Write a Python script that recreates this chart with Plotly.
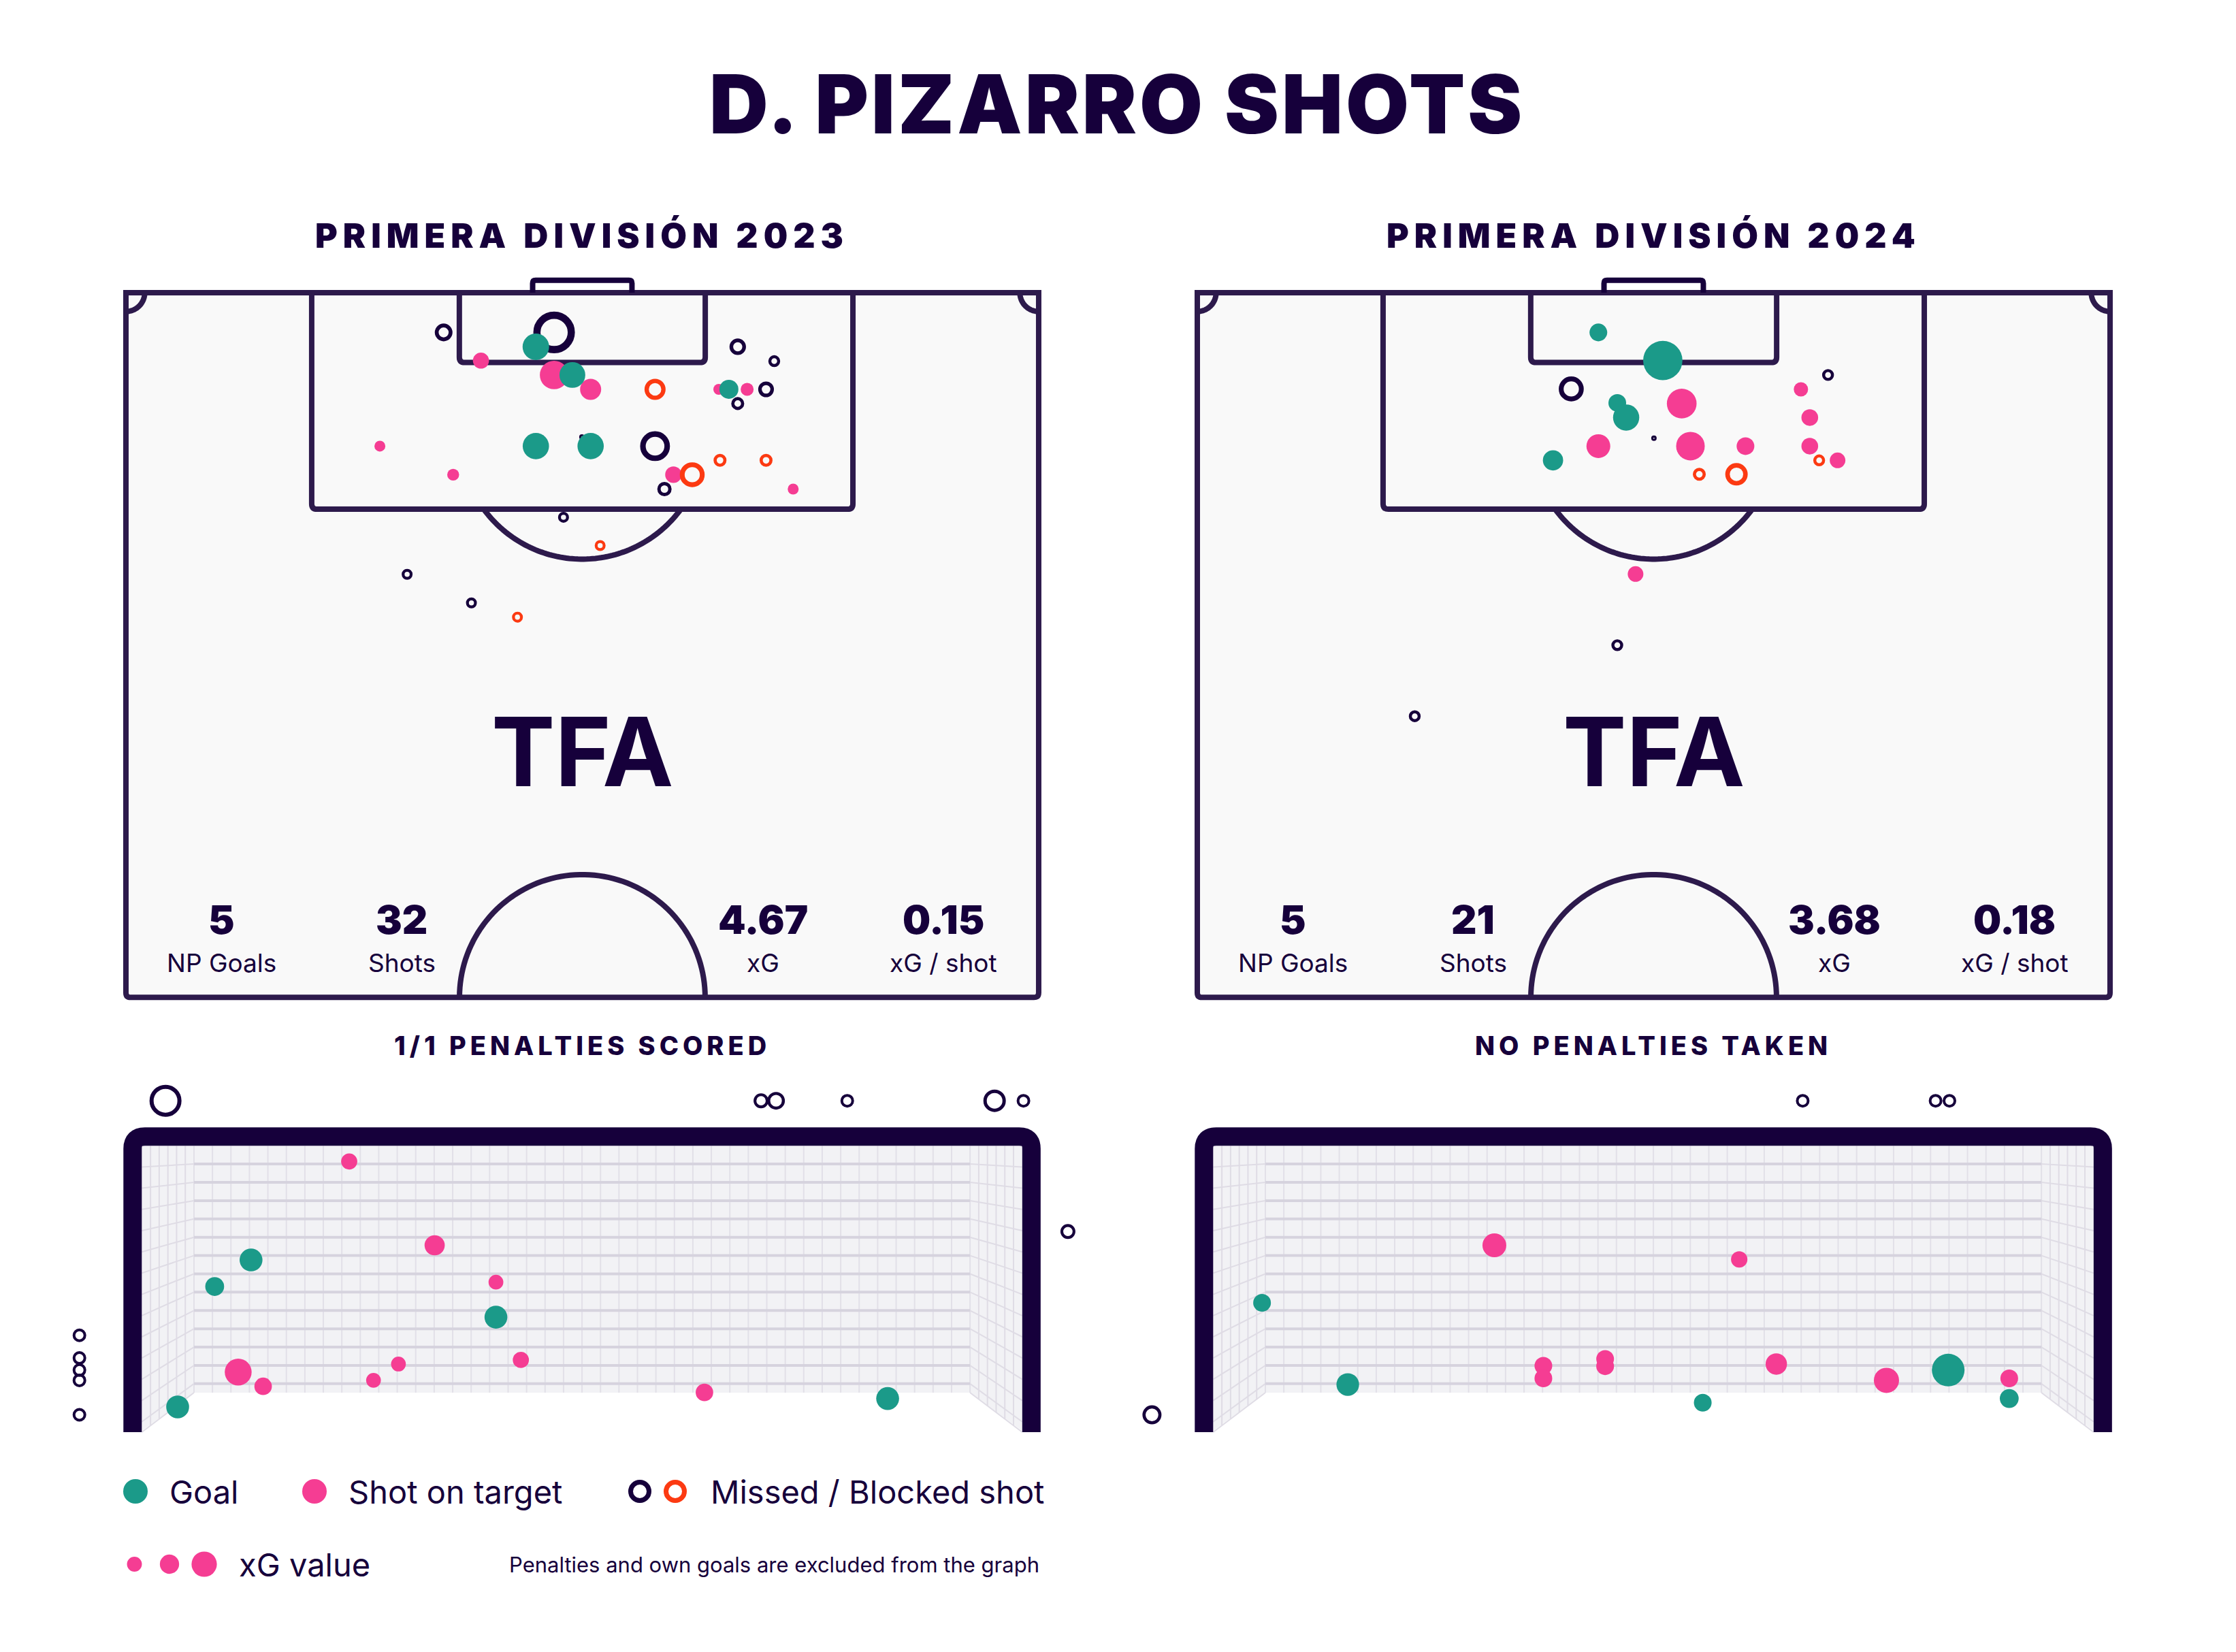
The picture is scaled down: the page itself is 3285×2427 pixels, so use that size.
import numpy as np
import plotly.graph_objects as go

W, H = 3285, 2427
OFF = 8                         # page margin around the figure
FW, FH = W - 2 * OFF, H - 2 * OFF

DARK = "#16003b"
LINE = "#2d1a4c"
TEAL = "#1b9a89"
PINK = "#f53d93"
RED = "#fc3a12"
PITCH_BG = "#f9f9f9"
NET_BG = "#f2f2f5"
FONT = "Inter, Roboto, 'Noto Sans', sans-serif"

# ---------------- data ----------------
main_title = "D. PIZARRO SHOTS"
season_titles = ["PRIMERA DIVISIÓN 2023", "PRIMERA DIVISIÓN 2024"]
penalty_titles = ["1/1 PENALTIES SCORED", "NO PENALTIES TAKEN"]
stat_labels = ["NP Goals", "Shots", "xG", "xG / shot"]
stats_2023 = ["5", "32", "4.67", "0.15"]
stats_2024 = ["5", "21", "3.68", "0.18"]

# shot maps: x = metres across pitch (0-68), y = metres from goal line
shots23_x = [31.9, 23.67, 30.54, 26.45, 31.9, 33.26, 34.62, 39.42, 45.58, 48.3,
             44.17, 44.92, 46.28, 47.69, 45.58, 18.92, 30.54, 34.62, 39.42, 24.38,
             40.79, 42.19, 44.26, 47.69, 40.12, 49.71, 32.6, 35.33, 20.95, 25.74,
             29.17, 33.97]
shots23_y = [2.96, 2.96, 4.03, 5.06, 6.13, 6.13, 7.2, 7.2, 4.03, 5.1,
             7.2, 7.2, 7.2, 7.2, 8.26, 11.43, 11.43, 11.43, 11.43, 13.56,
             13.56, 13.56, 12.49, 12.49, 14.63, 14.63, 16.73, 18.84, 20.98, 23.11,
             24.17, 10.75]
shots23_xg = [0.70, 0.127, 0.285, 0.105, 0.33, 0.27, 0.18, 0.18, 0.11, 0.057,
              0.048, 0.147, 0.068, 0.10, 0.068, 0.048, 0.28, 0.28, 0.36, 0.057,
              0.11, 0.25, 0.068, 0.068, 0.083, 0.048, 0.048, 0.048, 0.048, 0.048,
              0.048, 0.012]
shots23_result = ["missed", "missed", "goal", "on_target", "on_target", "goal", "on_target", "blocked", "missed", "missed",
                  "on_target", "goal", "on_target", "missed", "missed", "on_target", "goal", "goal", "missed", "on_target",
                  "on_target", "blocked", "blocked", "blocked", "missed", "on_target", "missed", "blocked", "missed", "missed",
                  "blocked", "missed"]

shots24_x = [29.88, 34.68, 27.86, 31.29, 31.95, 36.09, 34.02, 29.88, 26.5, 36.74,
             40.84, 37.4, 40.17, 46.99, 44.97, 45.63, 45.63, 46.33, 47.7, 32.65,
             31.29, 16.2]
shots24_y = [2.96, 5.05, 7.17, 8.21, 9.3, 8.26, 10.84, 11.43, 12.49, 11.43,
             11.43, 13.53, 13.53, 6.13, 7.2, 9.3, 11.43, 12.49, 12.49, 20.96,
             26.26, 31.55]
shots24_xg = [0.127, 0.625, 0.253, 0.127, 0.278, 0.358, 0.012, 0.23, 0.166, 0.331,
              0.127, 0.068, 0.204, 0.057, 0.083, 0.113, 0.113, 0.057, 0.099, 0.099,
              0.057, 0.057]
shots24_result = ["goal", "goal", "missed", "goal", "goal", "on_target", "missed", "on_target", "goal", "on_target",
                  "on_target", "blocked", "blocked", "missed", "on_target", "on_target", "on_target", "blocked", "on_target", "on_target",
                  "missed", "missed"]

# goal mouth views: x = metres from left post (0-7.32), z = height (m)
goal23_x = [0.268, 5.118, 5.24, 5.82, 7.02, 7.255, 7.617, -0.433, -0.433, -0.433,
            -0.433, -0.433, 1.764, 2.46, 2.959, 0.86, 1.063, 2.165, 1.962, 3.162,
            4.657, 0.9645, 0.6685, 2.959, 0.367, 6.149]
goal23_z = [2.735, 2.735, 2.735, 2.735, 2.735, 2.735, 1.656, 0.799, 0.612, 0.512,
            0.4275, 0.143, 2.234, 1.542, 1.238, 0.496, 0.378, 0.562, 0.4275, 0.596,
            0.3275, 1.421, 1.202, 0.949, 0.208, 0.2775]
goal23_xg = [0.575, 0.126, 0.176, 0.104, 0.283, 0.104, 0.126, 0.104, 0.104, 0.104,
             0.104, 0.104, 0.146, 0.229, 0.1225, 0.406, 0.172, 0.1225, 0.1225, 0.146,
             0.172, 0.294, 0.2, 0.294, 0.294, 0.294]
goal23_result = ["missed"] * 12 + ["on_target"] * 9 + ["goal"] * 5

goal24_x = [4.876, 5.958, 6.071, -0.4235, 2.365, 4.359, 2.764, 2.764, 3.267, 3.267,
            4.661, 5.558, 6.558, 0.473, 1.171, 4.062, 6.061, 6.558]
goal24_z = [2.735, 2.735, 2.735, 0.143, 1.542, 1.425, 0.548, 0.444, 0.604, 0.544,
            0.562, 0.4275, 0.444, 1.067, 0.393, 0.243, 0.512, 0.2775]
goal24_xg = [0.104, 0.104, 0.104, 0.204, 0.319, 0.15, 0.176, 0.176, 0.176, 0.176,
             0.256, 0.356, 0.176, 0.176, 0.288, 0.176, 0.6, 0.2]
goal24_result = ["missed"] * 4 + ["on_target"] * 9 + ["goal"] * 5

legend_labels = ["Goal", "Shot on target", "Missed / Blocked shot", "xG value"]
legend_xg_examples = [0.09, 0.15, 0.26]
footnote = "Penalties and own goals are excluded from the graph"

# ---------------- geometry ----------------
S = 19.72                      # px per metre on the pitch
PITCH_X0 = [185, 1759]         # page px of touchline x = 0
PITCH_Y0 = 430                 # page px of goal line
GSX, GSY = 180.4, 178.0        # px per metre in goal views
GOAL_X0 = [194.8, 1768.8]
GOAL_Y0 = 2104


def paper_x(p):
    return (p - OFF) / FW


def paper_y(p):
    return 1 - (p - OFF) / FH


def dom_x(p0, p1):
    return [paper_x(p0), paper_x(p1)]


def dom_y(top, bottom):
    return [paper_y(bottom), paper_y(top)]


def spaced(text, px):
    return f'<span style="letter-spacing:{px}px">{text}</span>'


fig = go.Figure()

PX_RANGE = [-2, 70]
PY_RANGE = [54, -2.5]
GX_RANGE = [-0.65, 7.95]
GY_RANGE = [-0.1, 3.0]

axes = {}
for i in range(2):
    n = "" if i == 0 else "2"
    axes[f"xaxis{n}"] = dict(domain=dom_x(PITCH_X0[i] + PX_RANGE[0] * S, PITCH_X0[i] + PX_RANGE[1] * S),
                             range=PX_RANGE, visible=False, fixedrange=True, anchor=f"y{n}")
    axes[f"yaxis{n}"] = dict(domain=dom_y(PITCH_Y0 + PY_RANGE[1] * S, PITCH_Y0 + PY_RANGE[0] * S),
                             range=PY_RANGE, visible=False, fixedrange=True, anchor=f"x{n}")
    g = i + 3
    axes[f"xaxis{g}"] = dict(domain=dom_x(GOAL_X0[i] + GX_RANGE[0] * GSX, GOAL_X0[i] + GX_RANGE[1] * GSX),
                             range=GX_RANGE, visible=False, fixedrange=True, anchor=f"y{g}")
    axes[f"yaxis{g}"] = dict(domain=dom_y(GOAL_Y0 - GY_RANGE[1] * GSY, GOAL_Y0 - GY_RANGE[0] * GSY),
                             range=GY_RANGE, visible=False, fixedrange=True, anchor=f"x{g}")

# legend axis in page pixel units
LEG_L, LEG_R, LEG_TOP, LEG_BOT = 8, 1700, 2140, 2350
axes["xaxis5"] = dict(domain=dom_x(LEG_L, LEG_R), range=[LEG_L, LEG_R], visible=False, fixedrange=True, anchor="y5")
axes["yaxis5"] = dict(domain=dom_y(LEG_TOP, LEG_BOT), range=[LEG_BOT, LEG_TOP], visible=False,
                      fixedrange=True, anchor="x5")

shapes = []
annotations = []


def text_at(x, y, text, size, weight=400, xanchor="center", xref="paper", yref="paper"):
    if xref == "paper":
        x, y = paper_x(x), paper_y(y)
    annotations.append(dict(xref=xref, yref=yref, x=x, y=y, text=text, showarrow=False,
                            xanchor=xanchor, yanchor="middle",
                            font=dict(family=FONT, size=size, color=DARK, weight=weight)))


def pts_path(xs, ys, close=False):
    s = "M " + " L ".join(f"{x:.4f},{y:.4f}" for x, y in zip(xs, ys))
    return s + (" Z" if close else "")


def arc(cx, cy, r, a0, a1, n=80):
    t = np.linspace(a0, a1, n)
    return cx + r * np.cos(t), cy + r * np.sin(t)


def pitch_shapes(xr, yr):
    base = dict(xref=xr, yref=yr, layer="below")
    ln = dict(color=LINE, width=8)
    out = []
    r = 0.35
    out.append(dict(base, type="path", fillcolor=PITCH_BG, line=ln,
                    path=f"M 0,0 L 68,0 L 68,{52.5 - r} Q 68,52.5 {68 - r},52.5 L {r},52.5 "
                         f"Q 0,52.5 0,{52.5 - r} Z"))
    # penalty area & six-yard box
    for x0, x1, d in [(13.84, 54.16, 16.13), (24.84, 43.16, 5.2)]:
        rr = 0.4
        out.append(dict(base, type="path", line=ln,
                        path=f"M {x0},0 L {x0},{d - rr} Q {x0},{d} {x0 + rr},{d} L {x1 - rr},{d} "
                             f"Q {x1},{d} {x1},{d - rr} L {x1},0"))
    # goal
    out.append(dict(base, type="path", line=dict(color=DARK, width=8),
                    path="M 30.3,0 L 30.3,-0.7 Q 30.3,-0.92 30.52,-0.92 L 37.48,-0.92 "
                         "Q 37.7,-0.92 37.7,-0.7 L 37.7,0"))
    # penalty arc
    s0 = np.arcsin((16.13 - 10.75) / 9.1)
    ax, ay = arc(34, 10.75, 9.1, s0, np.pi - s0)
    out.append(dict(base, type="path", line=ln, path=pts_path(ax, ay)))
    # centre circle
    ax, ay = arc(34, 52.5, 9.15, np.pi, 2 * np.pi)
    out.append(dict(base, type="path", line=ln, path=pts_path(ax, ay)))
    # corner arcs
    ax, ay = arc(0, 0, 1.4, 0, np.pi / 2, 30)
    out.append(dict(base, type="path", line=ln, path=pts_path(ax, ay)))
    ax, ay = arc(68, 0, 1.4, np.pi / 2, np.pi, 30)
    out.append(dict(base, type="path", line=ln, path=pts_path(ax, ay)))
    return out


def goal_decor(xa, ya):
    # net background, grid lines and frame of the goal mouth view
    base = dict(xref=xa, yref=ya, layer="below")
    inner, top, back_l, back_r, back_b = 0.06, 2.44, 0.5, 6.82, 0.326
    shapes.append(dict(base, type="path", fillcolor=NET_BG, line=dict(width=0),
                       path=f"M {inner},0 L {inner},{top} L {7.32 - inner},{top} L {7.32 - inner},0 "
                            f"L {back_r},{back_b} L {back_l},{back_b} Z"))
    ytop = 2.364
    rows = [ytop - k * 0.1511 for k in range(1, 14)]
    cols = np.linspace(back_l, back_r, 43)
    edge = 0.075

    def yfront(yb):
        return ytop - (ytop - yb) * ytop / (ytop - back_b)

    hx, hy = [], []
    for yb in rows:
        hx += [back_l, back_r, None]
        hy += [yb, yb, None]
    vx, vy = [], []
    for xc in cols:
        vx += [xc, xc, None]
        vy += [back_b, ytop, None]
    dx, dy = [], []
    for yb in rows + [back_b]:
        yf = yfront(yb)
        dx += [edge, back_l, None, 7.32 - edge, back_r, None]
        dy += [yf, yb, None, yf, yb, None]
    for f in np.linspace(0, 1, 7)[1:-1]:
        xl = edge + f * (back_l - edge)
        yl = back_b * f
        dx += [xl, xl, None, 7.32 - xl, 7.32 - xl, None]
        dy += [yl, ytop, None, yl, ytop, None]
    for gx, gy, col, wd in [(vx, vy, "#e2e0e8", 2), (dx, dy, "#dfdce5", 2), (hx, hy, "#d6d3de", 4)]:
        fig.add_trace(go.Scatter(x=gx, y=gy, mode="lines", line=dict(color=col, width=wd),
                                 xaxis=xa, yaxis=ya, hoverinfo="skip", showlegend=False))
    r = 0.1
    shapes.append(dict(xref=xa, yref=ya, layer="above", type="path", line=dict(color=DARK, width=27),
                       path=f"M 0,0 L 0,{2.44 - r} Q 0,2.44 {r},2.44 L {7.32 - r},2.44 "
                            f"Q 7.32,2.44 7.32,{2.44 - r} L 7.32,0"))


def add_shots(xs, ys, xgs, results, xa, ya, kscale, stroke):
    xs, ys, xgs, results = map(np.asarray, (xs, ys, xgs, results))
    for kind, col, filled in [("on_target", PINK, True), ("blocked", RED, False),
                              ("missed", DARK, False), ("goal", TEAL, True)]:
        m = results == kind
        if not m.any():
            continue
        d = kscale * np.sqrt(xgs[m])
        if filled:
            marker = dict(size=d, color=col, opacity=1, line=dict(width=0))
        else:
            w = stroke(d)
            marker = dict(size=d - w, color="rgba(0,0,0,0)", opacity=1, line=dict(color=col, width=w))
        fig.add_trace(go.Scatter(x=xs[m], y=ys[m], mode="markers", marker=marker,
                                 xaxis=xa, yaxis=ya, hoverinfo="skip", showlegend=False))


pitch_stroke = lambda d: 2 + 0.14 * d
goal_stroke = lambda d: 2.5 + 0.075 * d

season_data = [
    (shots23_x, shots23_y, shots23_xg, shots23_result, stats_2023,
     goal23_x, goal23_z, goal23_xg, goal23_result),
    (shots24_x, shots24_y, shots24_xg, shots24_result, stats_2024,
     goal24_x, goal24_z, goal24_xg, goal24_result),
]

stat_x = [7.1, 20.55, 47.45, 60.9]
for i, (sx, sy, sxg, sres, stats, gx, gz, gxg, gres) in enumerate(season_data):
    xa = "x" if i == 0 else "x2"
    ya = "y" if i == 0 else "y2"
    shapes.extend(pitch_shapes(xa, ya))
    add_shots(sx, sy, sxg, sres, xa, ya, 73, pitch_stroke)
    # logo
    text_at(34, 34.2, "<b>TFA</b>", 140, 900, xref=xa, yref=ya)
    for sxp, val, lab in zip(stat_x, stats, stat_labels):
        text_at(sxp, 46.7, val, 58, 900, xref=xa, yref=ya)
        text_at(sxp, 49.9, lab, 37, 400, xref=xa, yref=ya)
    gxa, gya = f"x{i + 3}", f"y{i + 3}"
    goal_decor(gxa, gya)
    add_shots(gx, gz, gxg, gres, gxa, gya, 62, goal_stroke)

    cx = PITCH_X0[i] + 34 * S
    text_at(cx, 346, spaced(season_titles[i], 8), 50, 900)
    text_at(cx, 1536, spaced(penalty_titles[i], 6), 38, 800)

text_at(1641, 153, spaced(main_title, 4), 120, 900)

# ---------------- legend ----------------
fig.add_trace(go.Scatter(x=[199, 462], y=[2191, 2191], mode="markers",
                         marker=dict(size=36, color=[TEAL, PINK], opacity=1, line=dict(width=0)),
                         xaxis="x5", yaxis="y5", hoverinfo="skip", showlegend=False))
fig.add_trace(go.Scatter(x=[940, 992], y=[2191, 2191], mode="markers",
                         marker=dict(size=27, color="rgba(0,0,0,0)", opacity=1,
                                     line=dict(color=[DARK, RED], width=7)),
                         xaxis="x5", yaxis="y5", hoverinfo="skip", showlegend=False))
leg_d = [73 * np.sqrt(v) for v in legend_xg_examples]
fig.add_trace(go.Scatter(x=[197.5, 249, 300], y=[2298] * 3, mode="markers",
                         marker=dict(size=leg_d, color=PINK, opacity=1, line=dict(width=0)),
                         xaxis="x5", yaxis="y5", hoverinfo="skip", showlegend=False))
for lx, ly, txt in [(247, 2191, legend_labels[0]), (510, 2191, legend_labels[1]),
                    (1042, 2191, legend_labels[2]), (349, 2298, legend_labels[3])]:
    text_at(lx, ly, txt, 47, 400, xanchor="left")
text_at(1529, 2298, footnote, 31, 400, xanchor="right")

fig.update_layout(
    width=FW,
    height=FH,
    margin=dict(l=0, r=0, t=0, b=0),
    paper_bgcolor="white",
    plot_bgcolor="rgba(0,0,0,0)",
    showlegend=False,
    shapes=shapes,
    annotations=annotations,
    **axes,
)

fig.write_html("out.html")
